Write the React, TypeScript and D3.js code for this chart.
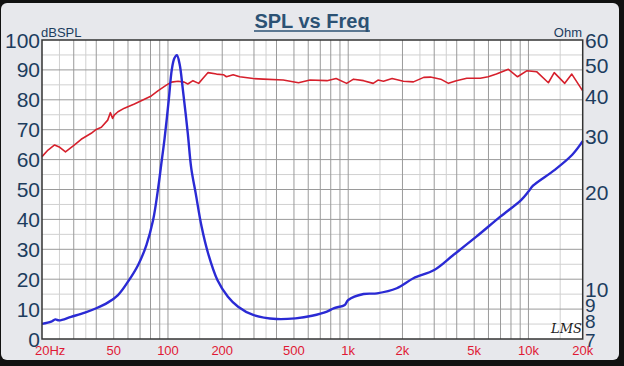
import React from "react";
import * as d3 from "d3";

const splFreq = [20, 21.6, 23.5, 25.1, 27, 30.3, 33, 37.5, 40, 42.7, 46.3, 47.9, 49.3, 50.3, 52.8, 57.3, 65.1, 74, 80.8, 87.9, 97.9, 104.5, 113.7, 123.1, 128.8, 137.6, 148, 156.5, 166.9, 186, 203, 211, 230, 250, 297, 338, 436, 530, 614, 762, 857, 980, 1070, 1217, 1376, 1463, 1569, 1752, 2023, 2300, 2625, 2858, 3260, 3600, 3980, 4550, 5400, 5980, 6640, 7740, 8700, 9780, 11100, 12900, 13900, 15900, 17400, 20000];
const splDb = [61.0, 63.2, 64.9, 64.1, 62.6, 64.9, 66.8, 68.8, 70.1, 70.8, 73.2, 75.7, 73.8, 74.9, 76.0, 77.2, 78.6, 80.2, 81.3, 83.0, 84.9, 85.9, 86.2, 85.9, 85.3, 86.4, 85.5, 87.2, 89.1, 88.6, 88.4, 87.7, 88.4, 87.7, 87.1, 86.9, 86.6, 85.7, 86.6, 86.4, 87.1, 85.5, 86.9, 86.4, 85.5, 86.6, 86.2, 87.1, 86.2, 86.0, 87.5, 87.6, 86.9, 85.5, 86.4, 87.2, 87.2, 87.7, 88.6, 90.2, 87.7, 89.7, 89.4, 85.7, 89.1, 85.5, 88.6, 83.0];

const impFreq = [20, 22.5, 23.7, 24.9, 29, 34.6, 40, 46.3, 52.8, 60, 68.3, 75.9, 82.7, 87.9, 91.8, 95.7, 101, 105, 108.5, 112, 116, 121, 128.8, 134.6, 142.6, 153.6, 166.9, 188, 215, 245, 297, 400, 510, 630, 762, 830, 957, 1000, 1217, 1445, 1860, 2300, 3000, 3830, 5140, 6980, 9100, 10000, 10600, 14000, 17500, 20000];
const impOhm = [7.8, 7.93, 8.06, 8.0, 8.21, 8.46, 8.73, 9.09, 9.6, 10.57, 11.92, 13.75, 16.46, 20.4, 24.6, 29.5, 39.0, 48.5, 52.6, 53.8, 50.5, 41.9, 30.7, 23.9, 19.9, 15.7, 12.96, 10.7, 9.49, 8.83, 8.32, 8.08, 8.12, 8.27, 8.52, 8.73, 8.94, 9.26, 9.67, 9.72, 10.08, 10.83, 11.49, 12.8, 14.6, 16.86, 19.0, 20.2, 21.06, 23.6, 26.3, 29.0];

const leftTicks = [0, 10, 20, 30, 40, 50, 60, 70, 80, 90, 100];
const rightTicks = [7, 8, 9, 10, 20, 30, 40, 50, 60];
const freqTicks = [20, 50, 100, 200, 500, 1000, 2000, 5000, 10000, 20000];
const freqTickLabels = ["20Hz", "50", "100", "200", "500", "1k", "2k", "5k", "10k", "20k"];

const W = 624, H = 366;
const L = 42, R = 582.7, T = 40, B = 339;

export default function App() {
  const x = d3.scaleLog().domain([20, 20000]).range([L, R]);
  const yL = d3.scaleLinear().domain([0, 100]).range([B, T]);
  const yR = d3.scaleLog().domain([7, 60]).range([B, T]);

  const majorF: number[] = [];
  const minorF: number[] = [];
  for (const dec of [10, 100, 1000, 10000]) {
    for (let m = 1; m <= 9; m++) {
      const f = m * dec;
      if (f > 20 && f < 20000) majorF.push(f);
    }
    for (const m of [1.5, 2.5, 3.5]) {
      const f = m * dec;
      if (f > 20 && f < 20000) minorF.push(f);
    }
  }
  const minorDb = d3.range(5, 100, 10);
  const majorDb = d3.range(10, 100, 10);

  const splLine = d3
    .line<number>()
    .x((_, i) => x(splFreq[i]))
    .y((d) => yL(d))
    .curve(d3.curveLinear)(splDb) as string;

  const impLine = d3
    .line<number>()
    .x((_, i) => x(impFreq[i]))
    .y((d) => yR(d))
    .curve(d3.curveCatmullRom.alpha(0.5))(impOhm) as string;

  const axisBlue = "#1d3d5e";
  const font = "Liberation Sans, Arial, sans-serif";

  return (
    <svg
      width={W}
      height={H}
      style={{ position: "absolute", left: 0, top: 0 }}
      fontFamily={font}
    >
      <rect x={0} y={0} width={W} height={H} fill="#111" />
      <rect x={1} y={3} width={618} height={357} rx={6} fill="#e7e8ec" />
      <rect x={L} y={T} width={R - L} height={B - T} fill="#fff" />

      {minorF.map((f) => (
        <line key={"mf" + f} x1={x(f)} x2={x(f)} y1={T} y2={B} stroke="#d0d0d0" strokeWidth={1} />
      ))}
      {minorDb.map((d) => (
        <line key={"md" + d} x1={L} x2={R} y1={yL(d)} y2={yL(d)} stroke="#d0d0d0" strokeWidth={1} />
      ))}
      {majorF.map((f) => (
        <line key={"Mf" + f} x1={x(f)} x2={x(f)} y1={T} y2={B} stroke="#9a9a9a" strokeWidth={1} />
      ))}
      {majorDb.map((d) => (
        <line key={"Md" + d} x1={L} x2={R} y1={yL(d)} y2={yL(d)} stroke="#9a9a9a" strokeWidth={1} />
      ))}

      <path d={splLine} fill="none" stroke="#d6202c" strokeWidth={1.6} strokeLinejoin="round" />
      <path d={impLine} fill="none" stroke="#2a2ad4" strokeWidth={2.4} strokeLinejoin="round" />

      <rect x={L} y={T} width={R - L} height={B - T} fill="none" stroke="#333" strokeWidth={1.5} />

      <text x={312} y={28} textAnchor="middle" fontSize={20} fontWeight="bold" fill="#2c5274">
        SPL vs Freq
      </text>
      <line x1={254} x2={370} y1={31} y2={31} stroke="#2c5274" strokeWidth={1.5} />

      <text x={41} y={37} fontSize={13} fill={axisBlue}>dBSPL</text>
      <text x={582} y={37} fontSize={13} fill={axisBlue} textAnchor="end">Ohm</text>

      {leftTicks.map((t) => (
        <text key={"l" + t} x={40} y={yL(t) + 7.5} fontSize={21} fill={axisBlue} textAnchor="end">
          {t}
        </text>
      ))}
      {rightTicks.map((t) => (
        <text key={"r" + t} x={585} y={yR(t) + 7.5} fontSize={t < 10 ? 19 : 21} fill={axisBlue} textAnchor="start">
          {t}
        </text>
      ))}
      {freqTicks.map((f, i) => (
        <text
          key={"f" + f}
          x={i === 0 ? x(f) - 7 : x(f)}
          y={355}
          fontSize={13}
          fill="#e01834"
          textAnchor={i === 0 ? "start" : "middle"}
        >
          {freqTickLabels[i]}
        </text>
      ))}

      <text x={551} y={333} fontSize={13} fontStyle="italic" fontFamily="DejaVu Serif, serif" fill="#222">
        LMS
      </text>
    </svg>
  );
}
